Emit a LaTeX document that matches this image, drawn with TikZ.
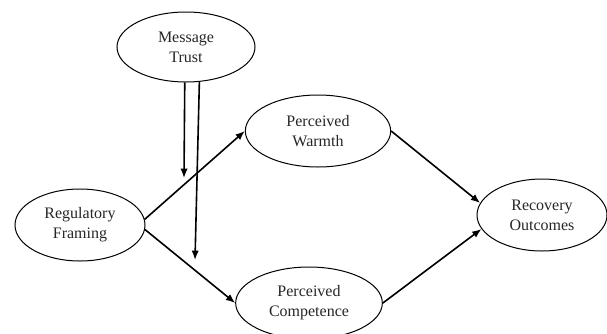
\documentclass[tikz,border=0pt]{standalone}
\usepackage{fontspec}
\setmainfont{Liberation Serif}
\usetikzlibrary{shapes.geometric,arrows.meta}

\tikzset{every picture/.style={line width=0.75pt}}
\tikzset{
  construct/.style={draw, ellipse, inner sep=0pt, align=center, text=black!85,
    font=\fontsize{12}{15}\selectfont},
  path arrow/.style={line width=1.2pt, -{Latex[length=7pt,width=5.5pt]}}
}

\begin{document}
\begin{tikzpicture}[x=0.75pt,y=0.75pt,yscale=-1,xscale=1]
\useasboundingbox (0,0) rectangle (607,333);

% Text Node
\node [construct, minimum width=103.5pt, minimum height=52.5pt] (mt) at (186,47) {Message\\Trust};
% Text Node
\node [construct, minimum width=97.5pt, minimum height=54pt] (rf) at (80,225) {Regulatory\\Framing};
% Text Node
\node [construct, minimum width=109pt, minimum height=54pt] (pw) at (318,131) {Perceived\\Warmth};
% Text Node
\node [construct, minimum width=110pt, minimum height=54pt] (pc) at (309,303) {Perceived\\Competence};
% Text Node
\node [construct, minimum width=97.5pt, minimum height=54pt] (ro) at (542,215) {Recovery\\Outcomes};

% Free ends of the moderator arrows
\coordinate (m1) at (184,178);
\coordinate (m2) at (195,260);

% Connection
\draw [path arrow] (rf.5) -- (pw.west);
% Connection
\draw [path arrow] (rf.-4) -- (pc.west);
% Connection
\draw [path arrow] (pw.east) -- (ro.169);
% Connection
\draw [path arrow] (pc.east) -- (ro.193);
% Connection
\draw [path arrow] (mt.268) -- (m1);
% Connection
\draw [path arrow] (mt.291) -- (m2);

\end{tikzpicture}
\end{document}
